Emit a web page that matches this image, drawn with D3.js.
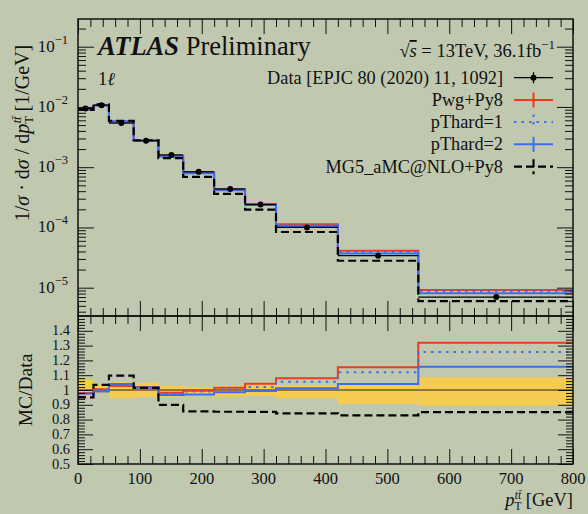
<!DOCTYPE html>
<html><head><meta charset="utf-8">
<script src="https://cdn.jsdelivr.net/npm/d3@7"></script>
<style>
html,body{margin:0;padding:0;background:#c0c8b0;}
svg{display:block;}
text{font-family:"Liberation Serif","DejaVu Serif",serif;fill:#111;}
</style></head>
<body>
<svg id="c" width="588" height="514"></svg>
<script>
// ---- data ----
const binEdges = [0,25,50,90,130,170,220,270,320,420,550,800];
const dataX = [12,38,70,110,151,195,246,295,370,485,676];
const dataVal = [9.4e-3,1.07e-2,5.4e-3,2.75e-3,1.6e-3,8.4e-4,4.35e-4,2.4e-4,1.0e-4,3.4e-5,7.0e-6];
const pwgVal = [9.1e-3,1.07e-2,5.7e-3,2.78e-3,1.53e-3,8.2e-4,4.3e-4,2.45e-4,1.13e-4,4.1e-5,9.2e-6];
const pt1Val = [9.1e-3,1.07e-2,5.75e-3,2.78e-3,1.52e-3,8.1e-4,4.25e-4,2.4e-4,1.1e-4,3.9e-5,8.7e-6];
const pt2Val = [9.1e-3,1.06e-2,5.8e-3,2.78e-3,1.5e-3,7.9e-4,4.15e-4,2.35e-4,1.06e-4,3.7e-5,8.1e-6];
const mg5Val = [8.9e-3,1.1e-2,5.9e-3,2.8e-3,1.42e-3,6.9e-4,3.6e-4,1.98e-4,8.4e-5,2.8e-5,6.0e-6];
const pwgRatio = [0.98,1.005,1.027,1.02,0.982,0.995,1.016,1.043,1.079,1.153,1.32];
const pt1Ratio = [0.975,1.0,1.035,1.02,0.975,0.99,1.005,1.02,1.056,1.12,1.257];
const pt2Ratio = [0.975,0.99,1.04,1.015,0.966,0.97,0.984,0.993,1.011,1.04,1.157];
const mg5Ratio = [0.95,1.034,1.097,1.014,0.899,0.855,0.853,0.852,0.842,0.828,0.851];
const bandUp = [0.068,0.04,0.056,0.048,0.03,0.02,0.03,0.04,0.034,0.034,0.086];
const bandDn = [0.05,0.023,0.056,0.048,0.045,0.03,0.045,0.04,0.056,0.095,0.106];
const xTicks = [0,100,200,300,400,500,600,700,800];
const logTicks = [1e-5,1e-4,1e-3,1e-2,1e-1];
const logExps = ["−5","−4","−3","−2","−1"];
const ratioTicks = [0.5,0.6,0.7,0.8,0.9,1.0,1.1,1.2,1.3,1.4];
const legendLabels = ["Data [EPJC 80 (2020) 11, 1092]","Pwg+Py8","pThard=1","pThard=2","MG5_aMC@NLO+Py8"];

// ---- layout ----
const X0=78, X1=573, T0=19, T1=316, R1=464;
const svg = d3.select("#c");
const x = d3.scaleLinear().domain([0,800]).range([X0,X1]);
const y = d3.scaleLog().domain([3.39e-6,0.2883]).range([T1,T0]);
const yr = d3.scaleLinear().domain([0.5,1.5]).range([R1,T1]);

const RED="#ee3a1e", BLUE="#3d6ef0", YEL="#f8cc4a";
const styles = [
  {c:RED, w:2, dash:null},
  {c:BLUE, w:2, dash:"2.5,5"},
  {c:BLUE, w:2, dash:null},
  {c:"#000", w:2.2, dash:"8,4"}
];

svg.append("defs").html(
 `<clipPath id="cu"><rect x="${X0}" y="${T0}" width="${X1-X0}" height="${T1-T0}"/></clipPath>
  <clipPath id="cr"><rect x="${X0}" y="${T1}" width="${X1-X0}" height="${R1-T1}"/></clipPath>`);

function stepPts(vals){ const p = vals.map((v,i)=>[binEdges[i],v]); p.push([binEdges[binEdges.length-1], vals[vals.length-1]]); return p; }
const lineU = d3.line().x(d=>x(d[0])).y(d=>y(d[1])).curve(d3.curveStepAfter);
const lineR = d3.line().x(d=>x(d[0])).y(d=>yr(d[1])).curve(d3.curveStepAfter);

// ---- upper panel ----
const gu = svg.append("g").attr("clip-path","url(#cu)");
[pwgVal,pt1Val,pt2Val,mg5Val].forEach((vals,k)=>{
  const s = styles[k];
  gu.append("path").attr("d",lineU(stepPts(vals))).attr("fill","none")
    .attr("stroke",s.c).attr("stroke-width",s.w).attr("stroke-dasharray",s.dash);
});
dataVal.forEach((v,i)=>{
  gu.append("line").attr("x1",x(binEdges[i])).attr("x2",x(binEdges[i+1])).attr("y1",y(v)).attr("y2",y(v))
    .attr("stroke","#000").attr("stroke-width",1.3);
  gu.append("line").attr("x1",x(dataX[i])).attr("x2",x(dataX[i])).attr("y1",y(v*1.04)).attr("y2",y(v/1.04))
    .attr("stroke","#000").attr("stroke-width",1.3);
  gu.append("circle").attr("cx",x(dataX[i])).attr("cy",y(v)).attr("r",3).attr("fill","#000");
});

// ---- ratio panel ----
const gr = svg.append("g").attr("clip-path","url(#cr)");
bandUp.forEach((u,i)=>{
  gr.append("rect").attr("x",x(binEdges[i])).attr("width",x(binEdges[i+1])-x(binEdges[i]))
    .attr("y",yr(1+u)).attr("height",yr(1-bandDn[i])-yr(1+u)).attr("fill",YEL).attr("opacity",0.95);
});
gr.append("line").attr("x1",X0).attr("x2",X1).attr("y1",yr(1)).attr("y2",yr(1))
  .attr("stroke","#000").attr("stroke-opacity",0.55).attr("stroke-width",1.5);
[pwgRatio,pt1Ratio,pt2Ratio,mg5Ratio].forEach((vals,k)=>{
  const s = styles[k];
  gr.append("path").attr("d",lineR(stepPts(vals))).attr("fill","none")
    .attr("stroke",s.c).attr("stroke-width",s.w).attr("stroke-dasharray",s.dash);
});

// ---- axes ----
const minorX = d3.range(0,801,20).filter(v=>v%100!==0);
function xAxes(yPos, dir){
  const g = svg.append("g").attr("transform",`translate(0,${yPos})`);
  const major = (dir>0? d3.axisTop(x) : d3.axisBottom(x)).tickValues(xTicks).tickSize(-15).tickFormat("");
  const minor = (dir>0? d3.axisTop(x) : d3.axisBottom(x)).tickValues(minorX).tickSize(-8).tickFormat("");
  g.append("g").call(major); g.append("g").call(minor);
  g.selectAll(".domain").remove();
  g.selectAll("line").attr("stroke","#111").attr("stroke-width",1);
  return g;
}
xAxes(T0,1); xAxes(T1,-1); xAxes(T1,1); xAxes(R1,-1);
xTicks.forEach(v=>{
  svg.append("text").attr("x",x(v)).attr("y",R1+20).attr("text-anchor","middle")
    .attr("font-size",16.5).text(v);
});

const minorLog = [];
for(let e=-6;e<=0;e++){ for(let m=2;m<=9;m++){ const v=m*Math.pow(10,e); if(v>y.domain()[0] && v<y.domain()[1]) minorLog.push(v);} }
function yAxesU(xPos, left){
  const g = svg.append("g").attr("transform",`translate(${xPos},0)`);
  const mk = left? d3.axisLeft : d3.axisRight;
  g.append("g").call(mk(y).tickValues(logTicks).tickSize(-16).tickFormat(""));
  g.append("g").call(mk(y).tickValues(minorLog).tickSize(-8).tickFormat(""));
  g.selectAll(".domain").remove();
  g.selectAll("line").attr("stroke","#111").attr("stroke-width",1);
}
yAxesU(X0,true); yAxesU(X1,false);
logTicks.forEach((v,i)=>{
  const t = svg.append("text").attr("x",68).attr("y",y(v)+5).attr("text-anchor","end").attr("font-size",17);
  t.append("tspan").text("10");
  t.append("tspan").attr("dy",-8).attr("font-size",12.5).text(logExps[i]);
});

const minorR = d3.range(50,151,2).map(v=>v/100).filter(v=>Math.round(v*100)%10!==0);
function yAxesR(xPos,left){
  const g = svg.append("g").attr("transform",`translate(${xPos},0)`);
  const mk = left? d3.axisLeft : d3.axisRight;
  g.append("g").call(mk(yr).tickValues(ratioTicks).tickSize(-15).tickFormat(""));
  g.append("g").call(mk(yr).tickValues(minorR).tickSize(-7).tickFormat(""));
  g.selectAll(".domain").remove();
  g.selectAll("line").attr("stroke","#111").attr("stroke-width",1);
}
yAxesR(X0,true); yAxesR(X1,false);
ratioTicks.forEach(v=>{
  svg.append("text").attr("x",70).attr("y",yr(v)+4.5).attr("text-anchor","end").attr("font-size",14.5)
    .text(v===1?"1":d3.format(".1f")(v));
});

svg.append("rect").attr("x",X0).attr("y",T0).attr("width",X1-X0).attr("height",T1-T0)
  .attr("fill","none").attr("stroke","#111").attr("stroke-width",1.5);
svg.append("rect").attr("x",X0).attr("y",T1).attr("width",X1-X0).attr("height",R1-T1)
  .attr("fill","none").attr("stroke","#111").attr("stroke-width",1.5);

// ---- titles ----
const at = svg.append("text").attr("x",98).attr("y",55).attr("font-size",26.5);
at.append("tspan").attr("font-weight","bold").attr("font-style","italic").text("ATLAS");
at.append("tspan").text(" Preliminary");
const l1 = svg.append("text").attr("x",98).attr("y",85).attr("font-size",18.5);
l1.append("tspan").text("1");
l1.append("tspan").attr("font-style","italic").text("ℓ");

const ss = svg.append("text").attr("x",555).attr("y",57).attr("text-anchor","end").attr("font-size",18.5);
ss.append("tspan").text("√");
ss.append("tspan").attr("font-style","italic").style("text-decoration","overline").text("s");
ss.append("tspan").text(" = 13TeV, 36.1fb");
ss.append("tspan").attr("dy",-8).attr("font-size",13).text("−1");

const legY = [77.7,100,122,144.3,166.7];
const lx1=514, lx2=553, lxc=533.5;
legendLabels.forEach((lab,i)=>{
  svg.append("text").attr("x",503).attr("y",legY[i]+6).attr("text-anchor","end").attr("font-size",18.3).text(lab);
  let c="#000", w=1.3, dash=null, bar=5.5;
  if(i>0){ const s=styles[i-1]; c=s.c; w=s.w; dash=s.dash; bar=7.5; }
  svg.append("line").attr("x1",lx1).attr("x2",lx2).attr("y1",legY[i]).attr("y2",legY[i])
    .attr("stroke",c).attr("stroke-width",w).attr("stroke-dasharray",dash);
  svg.append("line").attr("x1",lxc).attr("x2",lxc).attr("y1",legY[i]-bar).attr("y2",legY[i]+bar)
    .attr("stroke",c).attr("stroke-width",w).attr("stroke-dasharray",dash);
  if(i===0) svg.append("circle").attr("cx",lxc).attr("cy",legY[i]).attr("r",3).attr("fill","#000");
});

// axis titles
const yl = svg.append("text").attr("transform","translate(29,133) rotate(-90)").attr("text-anchor","middle").attr("font-size",20);
yl.append("tspan").text("1/");
yl.append("tspan").attr("font-style","italic").text("σ");
yl.append("tspan").text(" · d");
yl.append("tspan").attr("font-style","italic").text("σ");
yl.append("tspan").text(" / d");
yl.append("tspan").attr("font-style","italic").text("p");
yl.append("tspan").attr("dy",4).attr("font-size",12.5).text("T");
yl.append("tspan").attr("dy",-12).attr("dx",-7.3).attr("font-size",12.5).attr("font-style","italic").text("tt̄");
yl.append("tspan").attr("dy",8).text(" [1/GeV]");

svg.append("text").attr("transform",`translate(32,${yr(1)}) rotate(-90)`).attr("text-anchor","middle")
  .attr("font-size",19.5).text("MC/Data");

const xl = svg.append("text").attr("x",X1).attr("y",506).attr("text-anchor","end").attr("font-size",18.5);
xl.append("tspan").attr("font-style","italic").text("p");
xl.append("tspan").attr("dy",4).attr("font-size",11.5).text("T");
xl.append("tspan").attr("dy",-11).attr("dx",-6.8).attr("font-size",11.5).attr("font-style","italic").text("tt̄");
xl.append("tspan").attr("dy",7).text(" [GeV]");
</script>
</body></html>
